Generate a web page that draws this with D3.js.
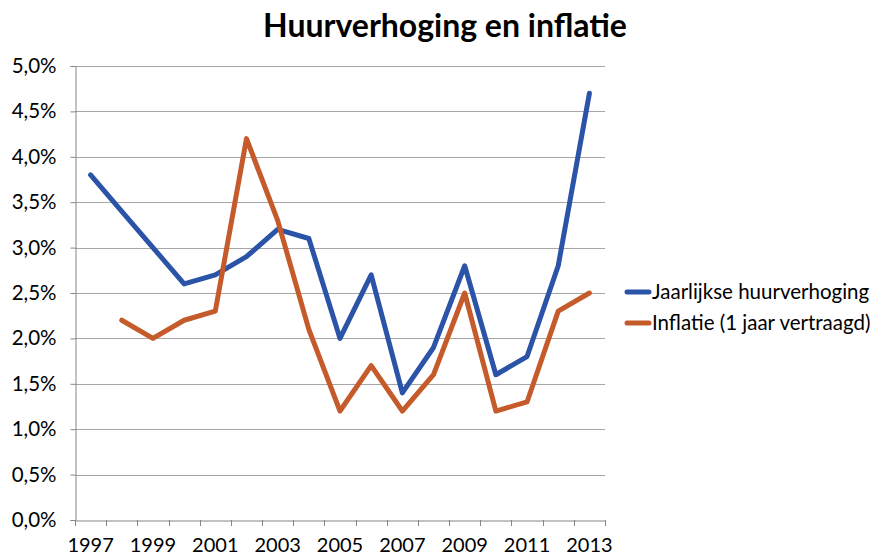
<!DOCTYPE html>
<html><head><meta charset="utf-8">
<script src="https://cdn.jsdelivr.net/npm/d3@7"></script>
<style>body{margin:0;background:#fff}svg{display:block}text{font-family:Lato,"Open Sans","Liberation Sans",sans-serif}</style>
</head><body>
<svg id="c" width="887" height="556"></svg>
<script>
const years = ["1997","1998","1999","2000","2001","2002","2003","2004","2005","2006","2007","2008","2009","2010","2011","2012","2013"];
const huur = [3.8,3.4,3.0,2.6,2.7,2.9,3.2,3.1,2.0,2.7,1.4,1.9,2.8,1.6,1.8,2.8,4.7];
const inflatie = [null,2.2,2.0,2.2,2.3,4.2,3.3,2.1,1.2,1.7,1.2,1.6,2.5,1.2,1.3,2.3,2.5];
const yTicks = [0,0.5,1,1.5,2,2.5,3,3.5,4,4.5,5];
const seriesNames = ["Jaarlijkse huurverhoging","Inflatie (1 jaar vertraagd)"];
const colors = ["#2B53A7","#C55A2B"];

const FONT = 'Lato,"Open Sans","Liberation Sans",sans-serif';
const svg = d3.select("#c");
const L=75,R=605,T=66,B=520;
const x = d3.scaleBand().domain(years).range([L,R]);
const y = d3.scaleLinear().domain([0,5]).range([B,T]);
const fmt = v => d3.format(".1f")(v).replace(".",",")+"%";

svg.append("text").attr("x",445).attr("y",37).attr("text-anchor","middle")
  .attr("font-size",32).attr("font-weight","bold").attr("fill","#000").text("Huurverhoging en inflatie");

// gridlines
svg.append("g").selectAll("line").data(yTicks.filter(d=>d>0)).join("line")
  .attr("x1",L).attr("x2",R).attr("y1",d=>Math.round(y(d))+0.5).attr("y2",d=>Math.round(y(d))+0.5)
  .attr("stroke","#a6a6a6").attr("stroke-width",1);

// y axis
const ya = svg.append("g").attr("transform",`translate(${L+0.5},0)`)
  .call(d3.axisLeft(y).tickValues(yTicks).tickFormat(fmt).tickSize(5).tickPadding(14));
ya.select(".domain").attr("stroke","#868686");
ya.selectAll(".tick line").attr("stroke","#868686");
ya.selectAll(".tick text").attr("font-size",20.5).attr("fill","#000").attr("font-family",FONT);

// x axis
const xa = svg.append("g").attr("transform",`translate(0,${B+0.5})`)
  .call(d3.axisBottom(x).tickValues(years.filter((d,i)=>i%2===0)).tickSize(0).tickPadding(17));
xa.select(".domain").attr("stroke","#868686");
xa.selectAll(".tick text").attr("font-size",20).attr("fill","#000").attr("font-family",FONT);
// category boundary ticks
const bounds = years.map(d=>x(d)).concat([R]);
svg.append("g").selectAll("line").data(bounds).join("line")
  .attr("x1",d=>Math.round(d)+0.5).attr("x2",d=>Math.round(d)+0.5).attr("y1",B).attr("y2",B+6)
  .attr("stroke","#868686");

const cx = d => x(d)+x.bandwidth()/2;
[huur,inflatie].forEach((s,k)=>{
  const line = d3.line().defined(d=>d!=null).x((d,i)=>cx(years[i])).y(d=>y(d));
  svg.append("path").datum(s).attr("d",line).attr("fill","none")
    .attr("stroke",colors[k]).attr("stroke-width",5).attr("stroke-linejoin","round").attr("stroke-linecap","round");
});

// legend
seriesNames.forEach((n,k)=>{
  const ly = 292 + k*31;
  svg.append("line").attr("x1",627).attr("x2",649).attr("y1",ly).attr("y2",ly)
    .attr("stroke",colors[k]).attr("stroke-width",5).attr("stroke-linecap","round");
  svg.append("text").attr("x",652).attr("y",ly+7).attr("font-size",20.5).attr("fill","#000").text(n);
});
</script>
</body></html>
